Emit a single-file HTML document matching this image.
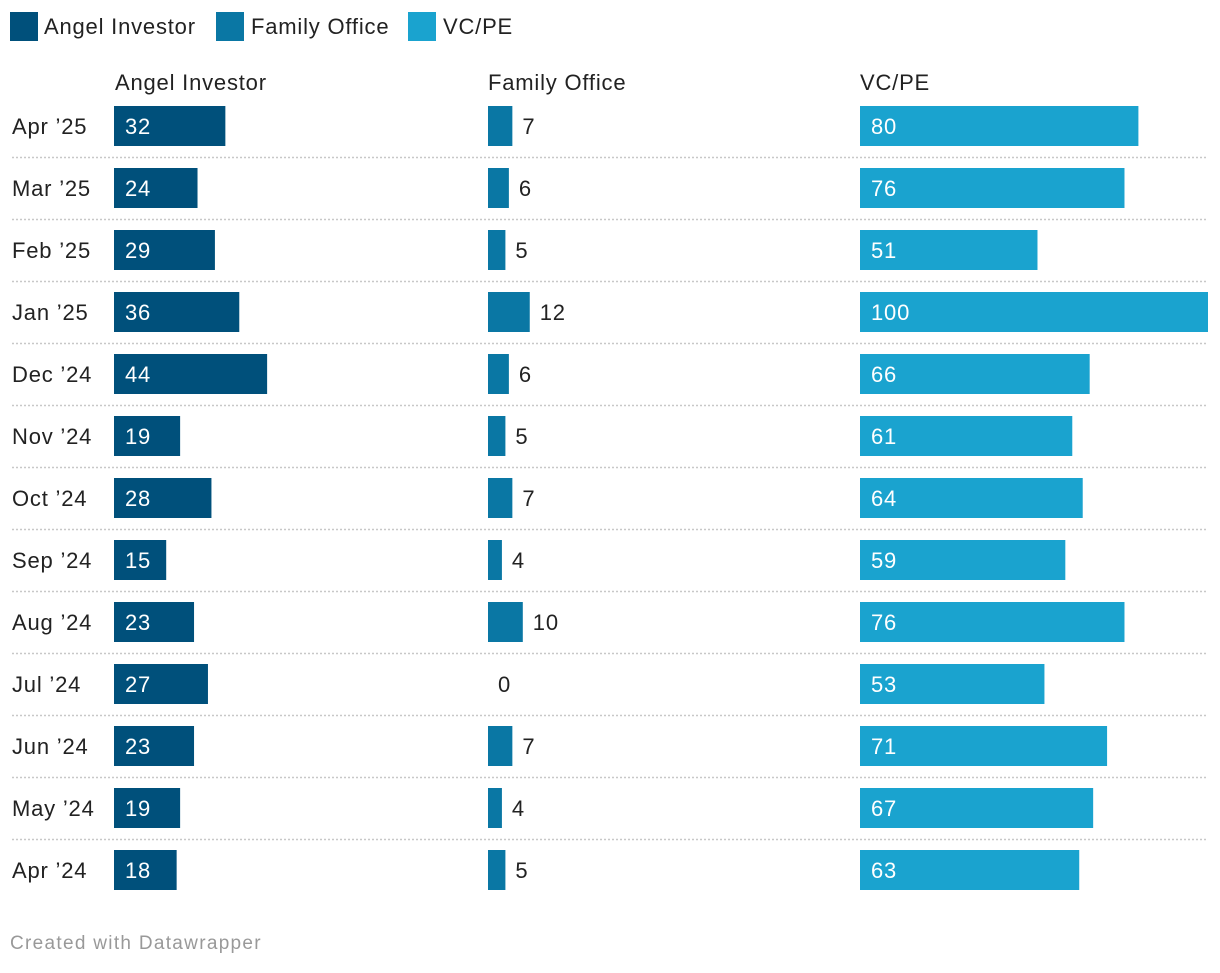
<!DOCTYPE html>
<html><head><meta charset="utf-8"><style>
body{margin:0;background:#fff;font-family:"Liberation Sans",Arial,sans-serif;}
svg text{font-family:"Liberation Sans",Arial,sans-serif;letter-spacing:0.8px;}
</style></head><body>
<svg id="chart" width="1220" height="968" xmlns="http://www.w3.org/2000/svg">
<g>
 <rect x="10" y="12" width="28" height="29" fill="#00507b"/>
 <text x="44" y="34" font-size="22" fill="#222">Angel Investor</text>
 <rect x="216" y="12" width="28" height="29" fill="#0a77a4"/>
 <text x="251" y="34" font-size="22" fill="#222">Family Office</text>
 <rect x="408" y="12" width="28" height="29" fill="#1aa3cf"/>
 <text x="443" y="34" font-size="22" fill="#222">VC/PE</text>
</g>
<text x="115" y="90" font-size="22" fill="#222">Angel Investor</text>
<text x="488" y="90" font-size="22" fill="#222">Family Office</text>
<text x="860" y="90" font-size="22" fill="#222">VC/PE</text>
<g id="rows"></g>
<text x="10" y="949" font-size="19" fill="#999" style="letter-spacing:1.3px">Created with Datawrapper</text>
</svg>
<script>
const categories = ["Apr ’25","Mar ’25","Feb ’25","Jan ’25","Dec ’24","Nov ’24","Oct ’24","Sep ’24","Aug ’24","Jul ’24","Jun ’24","May ’24","Apr ’24"];
const angelValues = [32,24,29,36,44,19,28,15,23,27,23,19,18];
const familyValues = [7,6,5,12,6,5,7,4,10,0,7,4,5];
const vcpeValues = [80,76,51,100,66,61,64,59,76,53,71,67,63];

const NS = "http://www.w3.org/2000/svg";
const g = document.getElementById("rows");
const unit = 3.48;
const xScale = v => v * unit;
const yRow = i => 106 + i * 62;
const series = [
  {vals: angelValues, x0: 114, color: "#00507b", name: "angel"},
  {vals: familyValues, x0: 488, color: "#0a77a4", name: "family"},
  {vals: vcpeValues, x0: 860, color: "#1aa3cf", name: "vcpe"}
];
function mk(tag, attrs){const e=document.createElementNS(NS,tag);for(const k in attrs)e.setAttribute(k,attrs[k]);return e;}
categories.forEach((c, i) => {
  const y = yRow(i);
  const lab = mk("text", {x: 12, y: y + 28, "font-size": 22, fill: "#222"});
  lab.textContent = c;
  
  
  g.appendChild(lab);
  series.forEach(s => {
    const v = s.vals[i];
    const w = xScale(v);
    const r = mk("rect", {x: s.x0, y: y, width: w, height: 40, fill: s.color});
    
    
    g.appendChild(r);
    const inside = w > 50;
    const t = mk("text", {x: inside ? s.x0 + 11 : s.x0 + w + 10, y: y + 28, "font-size": 22, fill: inside ? "#fff" : "#222"});
    t.textContent = v;
    
    
    g.appendChild(t);
  });
  if (i < categories.length - 1) {
    const l = mk("line", {x1: 12, x2: 1208, y1: y + 51.5, y2: y + 51.5, stroke: "#c8c8c8", "stroke-width": 1.5, "stroke-dasharray": "2,2"});
    
    
    g.appendChild(l);
  }
});
</script>
</body></html>
